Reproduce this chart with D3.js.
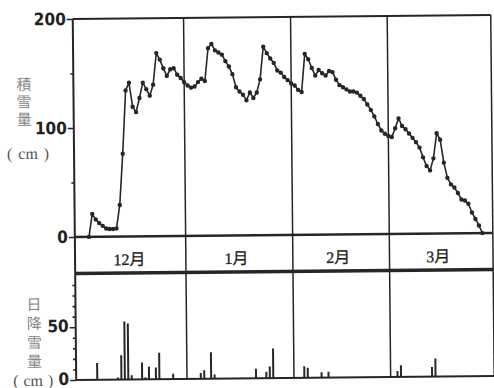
<!DOCTYPE html>
<html>
<head>
<meta charset="utf-8">
<script src="https://cdn.jsdelivr.net/npm/d3@7"></script>
<style>
html, body { margin: 0; padding: 0; background: #fff; }
svg { display: block; }
</style>
</head>
<body>
<svg id="chart" width="494" height="388"></svg>
<script>
// day index: 0 = 12月1日
const months = ['12月', '1月', '2月', '3月'];
const monthStartDays = [0, 31, 62, 90, 121];

// 積雪量 (cm), one value per day starting at depthStartDay
const depthStartDay = 3;
const snowDepth = [
    0, 21, 16, 12.5, 10, 7.5, 7, 7, 7.5, 29, 76, 134, 141, 119, 114, 127, 141, 135, 129, 139,
    168, 162, 154, 147, 153, 154, 148, 145, 141, 138, 136, 137, 141, 144, 142, 172, 176, 170,
    168, 166, 160, 155, 148, 136, 132, 129, 124, 131, 126, 131, 143, 173, 167, 162, 158, 151,
    149, 145, 142, 139, 137, 133, 131, 166, 161, 153, 146, 151, 148, 146, 150, 149, 142, 137,
    135, 133, 131, 131, 130, 127, 124, 119, 114, 108, 101, 95, 92, 90, 89, 97, 106, 99, 96,
    92, 88, 84, 79, 70, 62, 58, 69, 92, 86, 65, 51, 45, 42, 37, 31, 30, 27, 19, 13, 7, 0
];

// 日降雪量 (cm)
const snowfallDays = [5, 11, 12, 13, 14, 15, 18, 19, 20, 22, 23, 27, 35, 36, 38, 39, 51, 54, 55, 56, 65, 66, 70, 72, 92, 93, 102, 103];
const snowfallValues = [16, 2, 23, 55, 53, 4, 16, 2, 12, 11, 25, 5, 5.5, 8, 25, 4, 9, 6, 11, 28, 11, 9.5, 5, 5.5, 5.5, 11, 9, 17];

const depthTicks = [0, 100, 200];
const depthMinorTicks = [50, 150];
const snowfallTicks = [0, 50];
const snowfallMinorTicks = [10, 20, 30, 40, 60, 70, 80, 90];

const depthTitle = ['積', '雪', '量'];
const snowfallTitle = ['日', '降', '雪', '量'];

const LEFT = 74.5, RIGHT = 492.5;
const INK = '#262626';
const NUM_FONT = '"Liberation Sans Narrow", "DejaVu Sans Condensed", sans-serif';
const CJK_FONT = '"Liberation Serif", "Noto Sans CJK JP", serif';

const svg = d3.select('#chart');
svg.append('rect').attr('width', 494).attr('height', 388).attr('fill', '#fff');
// the printed figure sits slightly askew on the scan
const root = svg.append('g').attr('transform', 'rotate(-0.55, 283, 200)');

const x = d3.scaleLinear().domain([-1.1, 120]).range([LEFT, RIGHT]);
const yDepth = d3.scaleLinear().domain([0, 200]).range([235, 17]);
const yFall = d3.scaleLinear().domain([0, 100]).range([378, 272.4]);
const bandBottom = 271.5;

// axes
function styleAxis(g) {
    g.select('.domain').remove();
    g.selectAll('.tick line').attr('stroke', INK).attr('stroke-width', 1.6);
    g.selectAll('.tick text')
        .attr('font-family', NUM_FONT).attr('font-weight', 'bold')
        .attr('font-size', 17).attr('fill', '#222');
}
root.append('g').attr('transform', `translate(${LEFT},0)`)
    .call(d3.axisLeft(yDepth).tickValues(depthTicks).tickSize(6).tickPadding(1).tickFormat(d3.format('d')))
    .call(styleAxis);
root.append('g').attr('transform', `translate(${LEFT},0)`)
    .call(d3.axisLeft(yDepth).tickValues(depthMinorTicks).tickSize(3).tickFormat(''))
    .call(styleAxis);
root.append('g').attr('transform', `translate(${LEFT},0)`)
    .call(d3.axisLeft(yFall).tickValues(snowfallTicks).tickSize(6).tickPadding(1).tickFormat(d3.format('d')))
    .call(styleAxis)
    .selectAll('.tick text').attr('dy', '0.25em');
root.append('g').attr('transform', `translate(${LEFT},0)`)
    .call(d3.axisLeft(yFall).tickValues(snowfallMinorTicks).tickSize(3).tickFormat(''))
    .call(styleAxis);

// frame lines
const frame = root.append('g').attr('stroke', INK).attr('fill', 'none');
frame.append('line').attr('x1', LEFT).attr('x2', LEFT).attr('y1', yDepth(200)).attr('y2', yFall(0)).attr('stroke-width', 2);
frame.append('line').attr('x1', RIGHT).attr('x2', RIGHT).attr('y1', yDepth(200)).attr('y2', yFall(0)).attr('stroke-width', 1.5);
frame.append('line').attr('x1', LEFT).attr('x2', RIGHT).attr('y1', yDepth(200)).attr('y2', yDepth(200)).attr('stroke-width', 2);
frame.append('line').attr('x1', LEFT).attr('x2', RIGHT).attr('y1', yDepth(0)).attr('y2', yDepth(0)).attr('stroke-width', 2.6);
frame.append('line').attr('x1', LEFT).attr('x2', RIGHT).attr('y1', bandBottom).attr('y2', bandBottom).attr('stroke-width', 3.4);
frame.append('line').attr('x1', LEFT).attr('x2', RIGHT).attr('y1', yFall(0)).attr('y2', yFall(0)).attr('stroke-width', 2);
frame.selectAll('.divider').data(monthStartDays.slice(1, 4)).enter()
    .append('line').attr('class', 'divider')
    .attr('x1', (d) => x(d)).attr('x2', (d) => x(d))
    .attr('y1', yDepth(200)).attr('y2', yFall(0)).attr('stroke-width', 1.5);

// month labels
root.selectAll('.month').data(months).enter()
    .append('text').attr('class', 'month')
    .attr('x', (m, i) => (x(Math.max(monthStartDays[i], -1.1)) + x(Math.min(monthStartDays[i + 1], 120))) / 2 - 3)
    .attr('y', 258).attr('dominant-baseline', 'central').attr('text-anchor', 'middle')
    .attr('font-family', CJK_FONT).attr('font-size', 16).attr('fill', '#222')
    .attr('stroke', '#222').attr('stroke-width', 0.3)
    .text((m) => m);

// snow depth line
const line = d3.line().x((v, i) => x(depthStartDay + i)).y((v) => yDepth(v));
root.append('path').datum(snowDepth).attr('d', line)
    .attr('fill', 'none').attr('stroke', INK).attr('stroke-width', 1.6).attr('stroke-linejoin', 'round');
root.selectAll('.pt').data(snowDepth).enter()
    .append('circle').attr('class', 'pt')
    .attr('cx', (v, i) => x(depthStartDay + i)).attr('cy', (v) => yDepth(v))
    .attr('r', 2.2).attr('fill', INK);

// daily snowfall bars
root.selectAll('.bar').data(snowfallValues).enter()
    .append('rect').attr('class', 'bar')
    .attr('x', (v, i) => x(snowfallDays[i]) - 1).attr('width', 2)
    .attr('y', (v) => yFall(v)).attr('height', (v) => yFall(0) - yFall(v))
    .attr('fill', INK);

// axis titles
function unitLabel(cx, cy, gap) {
    const t = root.append('text').attr('x', cx).attr('y', cy)
        .attr('dominant-baseline', 'central').attr('text-anchor', 'middle')
        .attr('font-family', CJK_FONT).attr('font-size', 16).attr('fill', '#555');
    t.append('tspan').text('(');
    t.append('tspan').attr('dx', gap).text('cm');
    t.append('tspan').attr('dx', gap).text(')');
}
root.selectAll('.t1').data(depthTitle).enter()
    .append('text').attr('class', 't1')
    .attr('x', 25).attr('y', (c, i) => 82.5 + i * 17.5)
    .attr('dominant-baseline', 'central').attr('text-anchor', 'middle')
    .attr('font-family', CJK_FONT).attr('font-size', 15).attr('fill', '#888')
    .text((c) => c);
unitLabel(28.5, 150.5, 6);

root.selectAll('.t2').data(snowfallTitle).enter()
    .append('text').attr('class', 't2')
    .attr('x', 33).attr('y', (c, i) => 302.6 + i * 19)
    .attr('dominant-baseline', 'central').attr('text-anchor', 'middle')
    .attr('font-family', CJK_FONT).attr('font-size', 15).attr('fill', '#888')
    .text((c) => c);
unitLabel(31.5, 377.5, 5);
</script>
</body>
</html>
